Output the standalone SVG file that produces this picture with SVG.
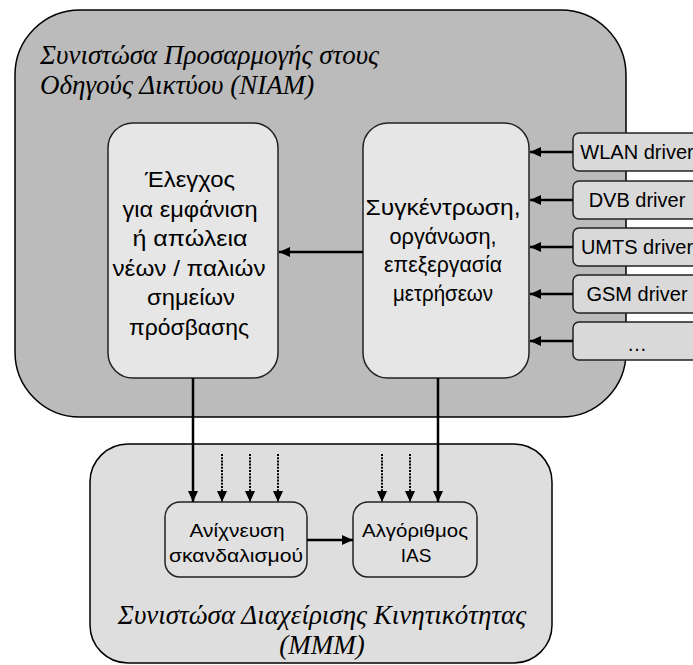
<svg xmlns="http://www.w3.org/2000/svg" width="693" height="665" viewBox="0 0 693 665">
<defs>
<marker id="ah" markerUnits="userSpaceOnUse" markerWidth="12" markerHeight="12" viewBox="0 0 12 12" refX="11" refY="6" orient="auto">
<path d="M0,1 L11,6 L0,11 Z" fill="#000"/>
</marker>
</defs>
<style>
.sans{font-family:"Liberation Sans",Arial,sans-serif;fill:#000;text-anchor:middle}
.gk{font-size:22px}
.gs{font-size:19px}
.ttl{font-family:"Liberation Serif","Times New Roman",serif;font-style:italic;fill:#000;font-size:27px}
.inner{fill:#e6e6e6;stroke:#222;stroke-width:1.5}
.drv{fill:#d9d9d9;stroke:#222;stroke-width:1.5}
.low{fill:#e0e0e0;stroke:#222;stroke-width:1.5}
.ln{stroke:#000;stroke-width:2.5;fill:none;marker-end:url(#ah)}
.dot{stroke:#000;stroke-width:2;stroke-dasharray:2 1.2;fill:none;marker-end:url(#ah)}
</style>
<g id="niam">
<rect x="15" y="10" width="611" height="407" rx="65" ry="65" fill="#bbbbbb" stroke="#000" stroke-width="1.5"/>
<text class="ttl" x="40" y="64">Συνιστώσα Προσαρμογής στους</text>
<text class="ttl" x="40" y="94">Οδηγούς Δικτύου (NIAM)</text>
</g>
<g id="mmm">
<rect x="90" y="444" width="462" height="219" rx="38" ry="38" fill="#dedede" stroke="#000" stroke-width="1.5"/>
<text class="ttl" x="322" y="624" text-anchor="middle">Συνιστώσα Διαχείρισης Κινητικότητας</text>
<text class="ttl" x="322" y="654" text-anchor="middle">(MMM)</text>
</g>
<g id="check">
<rect class="inner" x="108" y="123" width="170" height="255" rx="25" ry="25"/>
<text class="sans gk" x="190" y="187" textLength="90" lengthAdjust="spacingAndGlyphs">Έλεγχος</text>
<text class="sans gk" x="190" y="216.5" textLength="135" lengthAdjust="spacingAndGlyphs">για εμφάνιση</text>
<text class="sans gk" x="190" y="246" textLength="115" lengthAdjust="spacingAndGlyphs">ή απώλεια</text>
<text class="sans gk" x="189" y="275.5" textLength="153" lengthAdjust="spacingAndGlyphs">νέων / παλιών</text>
<text class="sans gk" x="191" y="305" textLength="88" lengthAdjust="spacingAndGlyphs">σημείων</text>
<text class="sans gk" x="189" y="334.5" textLength="120" lengthAdjust="spacingAndGlyphs">πρόσβασης</text>
</g>
<g id="collect">
<rect class="inner" x="363" y="123" width="166" height="255" rx="25" ry="25"/>
<text class="sans gk" x="443" y="215" textLength="155" lengthAdjust="spacingAndGlyphs">Συγκέντρωση,</text>
<text class="sans gk" x="443" y="243.5" textLength="107" lengthAdjust="spacingAndGlyphs">οργάνωση,</text>
<text class="sans gk" x="443" y="272" textLength="118" lengthAdjust="spacingAndGlyphs">επεξεργασία</text>
<text class="sans gk" x="443" y="300.5" textLength="100" lengthAdjust="spacingAndGlyphs">μετρήσεων</text>
</g>
<g id="wlan"><rect class="drv" x="573" y="133" width="130" height="38" rx="6"/><text class="sans" x="637" y="159" font-size="20">WLAN driver</text></g>
<g id="dvb"><rect class="drv" x="573" y="181" width="130" height="38" rx="6"/><text class="sans" x="637" y="207" font-size="20">DVB driver</text></g>
<g id="umts"><rect class="drv" x="573" y="228" width="130" height="38" rx="6"/><text class="sans" x="637" y="254" font-size="20">UMTS driver</text></g>
<g id="gsm"><rect class="drv" x="573" y="275" width="130" height="38" rx="6"/><text class="sans" x="637" y="301" font-size="20">GSM driver</text></g>
<g id="more"><rect class="drv" x="573" y="322" width="130" height="38" rx="6"/><text class="sans" x="637" y="351" font-size="20">…</text></g>
<g id="detect">
<rect class="low" x="165" y="502" width="142" height="75" rx="15" ry="15"/>
<text class="sans gs" x="237" y="537" textLength="95" lengthAdjust="spacingAndGlyphs">Ανίχνευση</text>
<text class="sans gs" x="236" y="562" textLength="134" lengthAdjust="spacingAndGlyphs">σκανδαλισμού</text>
</g>
<g id="ias">
<rect class="low" x="353" y="502" width="124" height="75" rx="15" ry="15"/>
<text class="sans gs" x="415" y="537" textLength="106" lengthAdjust="spacingAndGlyphs">Αλγόριθμος</text>
<text class="sans gs" x="416" y="562">IAS</text>
</g>
<g id="connectors">
<line class="ln" x1="573" y1="152" x2="530" y2="152"/>
<line class="ln" x1="573" y1="200" x2="530" y2="200"/>
<line class="ln" x1="573" y1="247" x2="530" y2="247"/>
<line class="ln" x1="573" y1="294" x2="530" y2="294"/>
<line class="ln" x1="573" y1="341" x2="530" y2="341"/>
<line class="ln" x1="363" y1="252" x2="279" y2="252"/>
<line class="ln" x1="193" y1="378" x2="193" y2="502"/>
<line class="ln" x1="438" y1="378" x2="438" y2="502"/>
<line class="dot" x1="222" y1="454" x2="222" y2="502"/>
<line class="dot" x1="250" y1="454" x2="250" y2="502"/>
<line class="dot" x1="278" y1="454" x2="278" y2="502"/>
<line class="dot" x1="382" y1="454" x2="382" y2="502"/>
<line class="dot" x1="410" y1="454" x2="410" y2="502"/>
<line class="ln" x1="307" y1="540" x2="353" y2="540"/>
</g>
</svg>
